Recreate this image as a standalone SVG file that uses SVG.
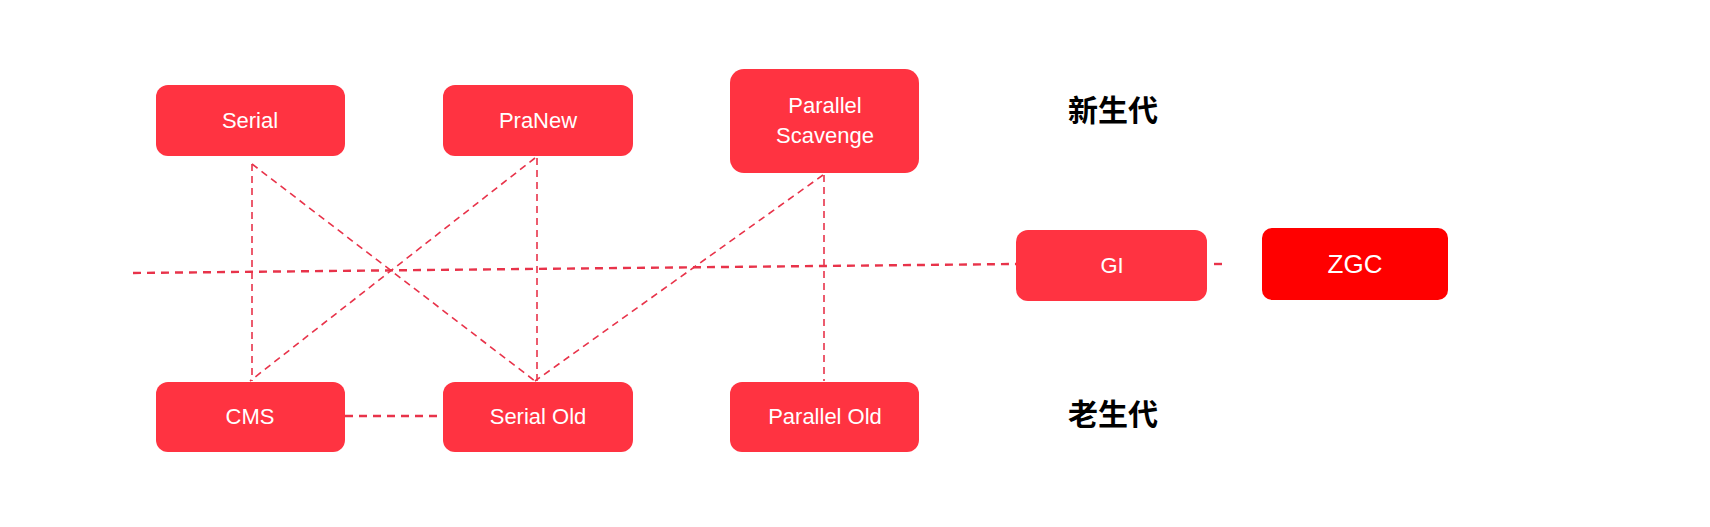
<svg xmlns="http://www.w3.org/2000/svg" width="1710" height="527" viewBox="0 0 1710 527">
<style>
.n{fill:#FF3341}
.z{fill:#FF0000}
.t{fill:#fff;font-family:"Liberation Sans",Arial,sans-serif;font-size:22px;text-anchor:middle}
.c{fill:#000;font-family:"Noto Sans CJK SC",sans-serif;font-size:30px;font-weight:bold;text-anchor:middle}
.l{stroke:#E8334A;stroke-width:1.6;fill:none;stroke-dasharray:7 5}
.h{stroke:#E8334A;stroke-width:2.4;fill:none;stroke-dasharray:8 6}
</style>
<rect width="1710" height="527" fill="#fff"/>
<g id="connectors">
<line class="h" x1="133" y1="273" x2="1016" y2="264"/>
<line class="h" x1="1214" y1="264" x2="1224" y2="264"/>
<line class="l" x1="252" y1="164" x2="252" y2="381"/>
<line class="l" x1="252" y1="164" x2="535" y2="381"/>
<line class="l" x1="535" y1="158" x2="250" y2="381"/>
<line class="l" x1="537" y1="158" x2="537" y2="381"/>
<line class="l" x1="823" y1="175" x2="535" y2="381"/>
<line class="l" x1="824" y1="175" x2="824" y2="381"/>
<line class="h" x1="345" y1="416" x2="443" y2="416"/>
</g>
<g id="serial"><rect class="n" x="156" y="85" width="189" height="71" rx="12"/><text class="t" x="250" y="128">Serial</text></g>
<g id="pranew"><rect class="n" x="443" y="85" width="190" height="71" rx="12"/><text class="t" x="538" y="128">PraNew</text></g>
<g id="ps"><rect class="n" x="730" y="69" width="189" height="104" rx="14"/><text class="t" x="825" y="113">Parallel</text><text class="t" x="825" y="143">Scavenge</text></g>
<g id="gi"><rect class="n" x="1016" y="230" width="191" height="71" rx="12"/><text class="t" x="1112" y="273">GI</text></g>
<g id="zgc"><rect class="z" x="1262" y="228" width="186" height="72" rx="10"/><text class="t" x="1355" y="273" style="font-size:26px">ZGC</text></g>
<g id="cms"><rect class="n" x="156" y="382" width="189" height="70" rx="12"/><text class="t" x="250" y="424">CMS</text></g>
<g id="serialold"><rect class="n" x="443" y="382" width="190" height="70" rx="12"/><text class="t" x="538" y="424">Serial Old</text></g>
<g id="parallelold"><rect class="n" x="730" y="382" width="189" height="70" rx="12"/><text class="t" x="825" y="424">Parallel Old</text></g>
<g id="young"><text class="c" x="1113" y="121">新生代</text></g>
<g id="old"><text class="c" x="1113" y="425">老生代</text></g>
</svg>
